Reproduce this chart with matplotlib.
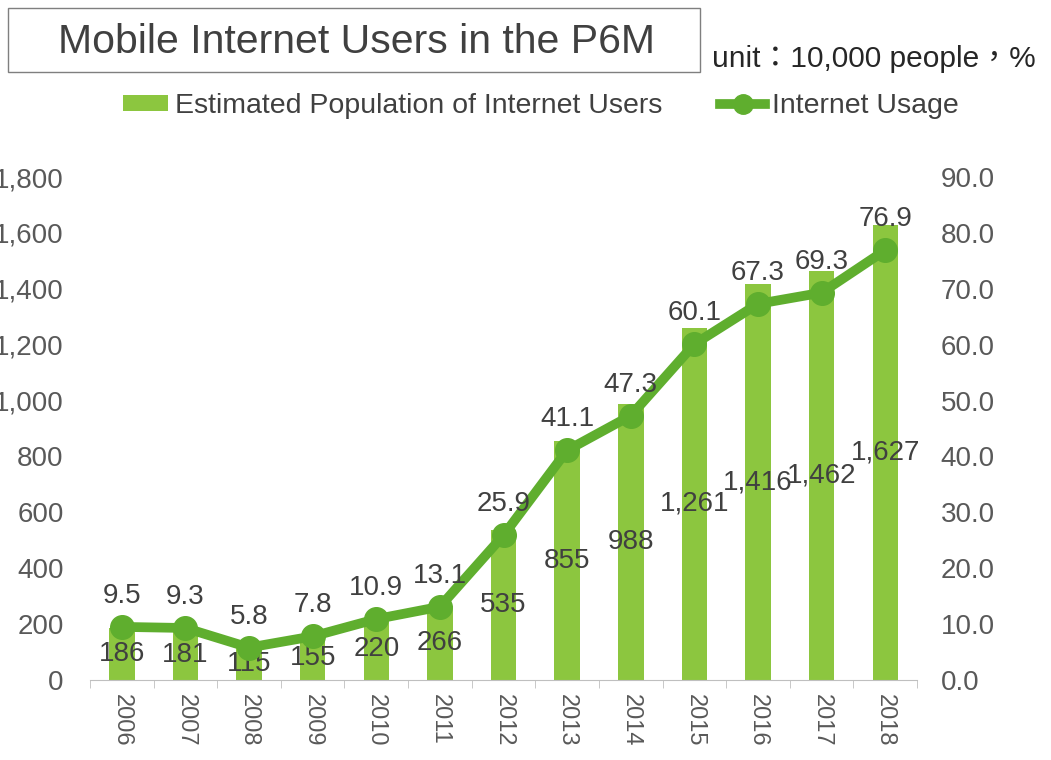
import matplotlib
matplotlib.use("Agg")
import matplotlib.pyplot as plt
from matplotlib.patches import Rectangle, Patch
from matplotlib.lines import Line2D
from matplotlib.ticker import FuncFormatter, MultipleLocator

# dane
years = ['2006', '2007', '2008', '2009', '2010', '2011', '2012',
         '2013', '2014', '2015', '2016', '2017', '2018']
users = [186, 181, 115, 155, 220, 266, 535, 855, 988, 1261, 1416, 1462, 1627]
usage = [9.5, 9.3, 5.8, 7.8, 10.9, 13.1, 25.9, 41.1, 47.3, 60.1, 67.3, 69.3, 76.9]

bar_color = '#8cc63f'
line_color = '#5fae2e'
text_color = '#404040'
tick_color = '#595959'

plt.rcParams['font.family'] = ['Liberation Sans', 'DejaVu Sans']
narrow = ['Liberation Sans', 'Noto Sans CJK TC', 'DejaVu Sans']

fig = plt.figure(figsize=(10.51, 7.6), dpi=100)
ax = fig.add_axes([0.0856, 0.1053, 0.787, 0.6618])
ax2 = ax.twinx()

x = range(len(years))
ax.bar(x, users, width=0.4, color=bar_color, zorder=2)
ax.set_xlim(-0.5, len(years) - 0.5)
ax.set_ylim(0, 1800)
ax.yaxis.set_major_locator(MultipleLocator(200))
ax.yaxis.set_major_formatter(FuncFormatter(lambda v, p: f'{int(v):,}'))

ax2.plot(x, usage, color=line_color, linewidth=7, marker='o', markersize=17,
         zorder=3)
ax2.set_ylim(0, 90)
ax2.yaxis.set_major_locator(MultipleLocator(10))
ax2.yaxis.set_major_formatter(FuncFormatter(lambda v, p: f'{v:.1f}'))

# wyglad osi
for a in (ax, ax2):
    for s in ('top', 'left', 'right'):
        a.spines[s].set_visible(False)
    a.spines['bottom'].set_color('#bfbfbf')
ax2.spines['bottom'].set_visible(False)
ax.tick_params(axis='y', length=0, pad=19, labelsize=20, labelcolor=tick_color)
ax2.tick_params(axis='y', length=0, pad=17, labelsize=20, labelcolor=tick_color)
ax.set_xticks(list(x))
ax.set_xticklabels(years, rotation=-90, fontsize=17, color=tick_color)
ax.set_xticks([i - 0.5 for i in range(len(years) + 1)], minor=True)
ax.tick_params(axis='x', which='major', length=0, pad=10)
ax.tick_params(axis='x', which='minor', length=6, color='#bfbfbf', direction='out')

# etykiety danych
for i, v in enumerate(users):
    ax.text(i, v / 2, f'{v:,}', ha='center', va='center', fontsize=20,
            color=text_color, zorder=4)
for i, v in enumerate(usage):
    ax2.annotate(f'{v}', (i, v), xytext=(0, 13), textcoords='offset points',
                 ha='center', va='bottom', fontsize=20, color=text_color, zorder=4)

# tytul w ramce
fig.patches.append(Rectangle((8 / 1051, 1 - 72 / 760), 692 / 1051, 64 / 760,
                             transform=fig.transFigure, fill=False,
                             edgecolor='#7f7f7f', linewidth=1))
fig.text(356 / 1051, 1 - 42 / 760, 'Mobile Internet Users in the P6M',
         ha='center', va='center', fontsize=29.5, color=text_color, family=narrow)
fig.text(712 / 1051, 1 - 59 / 760, 'unit：10,000 people，%', ha='left',
         va='center', fontsize=21.5, color='#262626', family=narrow)

# legenda
handles = [Patch(facecolor=bar_color, edgecolor='none'),
           Line2D([], [], color=line_color, linewidth=7, marker='o', markersize=14)]
fig.legend(handles, ['Estimated Population of Internet Users', 'Internet Usage'],
           loc='center', bbox_to_anchor=(541 / 1051, 1 - 106 / 760), ncol=2,
           frameon=False, prop={'family': narrow, 'size': 20.5},
           handlelength=1.6, handleheight=0.5, handletextpad=0.25,
           columnspacing=2.0, labelcolor=text_color)

fig.savefig('out.png', dpi=100)
